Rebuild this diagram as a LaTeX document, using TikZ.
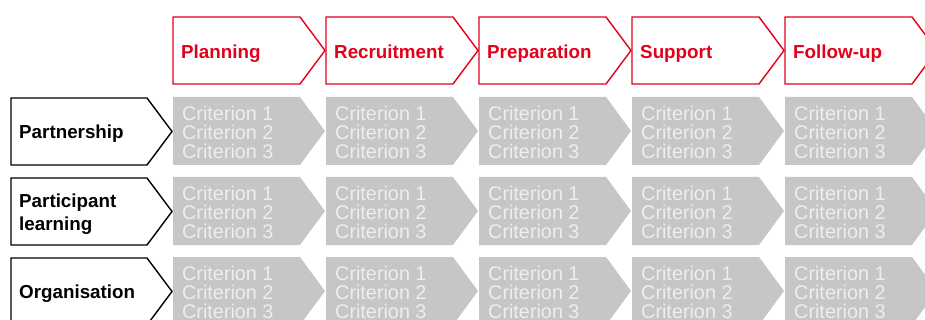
\documentclass[tikz,border=0pt]{standalone}
\usepackage{fontspec}
\setmainfont{Liberation Sans}
\definecolor{phasered}{HTML}{E2001A}
\definecolor{critgray}{HTML}{C6C6C6}
\definecolor{crittext}{HTML}{EEEEEE}
\tikzset{
    phasebox/.style={draw=phasered, line width=1.4pt, fill=white, line join=miter},
    phasetext/.style={text=phasered, font=\fontsize{18.8}{22}\selectfont\bfseries, inner sep=0pt, anchor=base west},
    rowbox/.style={draw=black, line width=1.4pt, fill=white},
    rowtext/.style={font=\fontsize{18.8}{23.5}\selectfont\bfseries, inner sep=0pt, align=left},
    critbox/.style={fill=critgray, draw=none},
    crittxt/.style={text=crittext, font=\fontsize{19.8}{19}\selectfont, inner sep=0pt, align=left, anchor=west}
}

\begin{document}
\begin{tikzpicture}[x=1pt, y=-1pt]
    \useasboundingbox (0,0) rectangle (925,320);

    % Phase headers (red arrows)
    \foreach \name [count=\i from 0] in {Planning, Recruitment, Preparation, Support, Follow-up} {
        \draw[phasebox] (173+153*\i, 17) -- ++(127,0) -- ++(25,33.5) -- ++(-25,33.5) -- ++(-127,0) -- cycle;
        \node[phasetext] (phase\i) at (181+153*\i, 59) {\name};
    }

    % Row labels (black arrows)
    \foreach \top/\lab [count=\r from 0] in {97/Partnership, 177/{Participant\\learning}, 257/Organisation} {
        \draw[rowbox] (11, \top+1) -- (147, \top+1) -- (172, \top+34.5) -- (147, \top+68) -- (11, \top+68) -- cycle;
        \node[rowtext, anchor=west] (row\r) at (19, \top+37) {\lab};
        % Criteria (grey arrows)
        \foreach \i in {0,...,4} {
            \fill[critbox] (173+153*\i, \top) -- ++(127,0) -- ++(25,34) -- ++(-25,34) -- ++(-127,0) -- cycle;
            \node[crittxt] (crit\r\i) at (182+153*\i, \top+35) {Criterion 1\\Criterion 2\\Criterion 3};
        }
    }
\end{tikzpicture}
\end{document}
